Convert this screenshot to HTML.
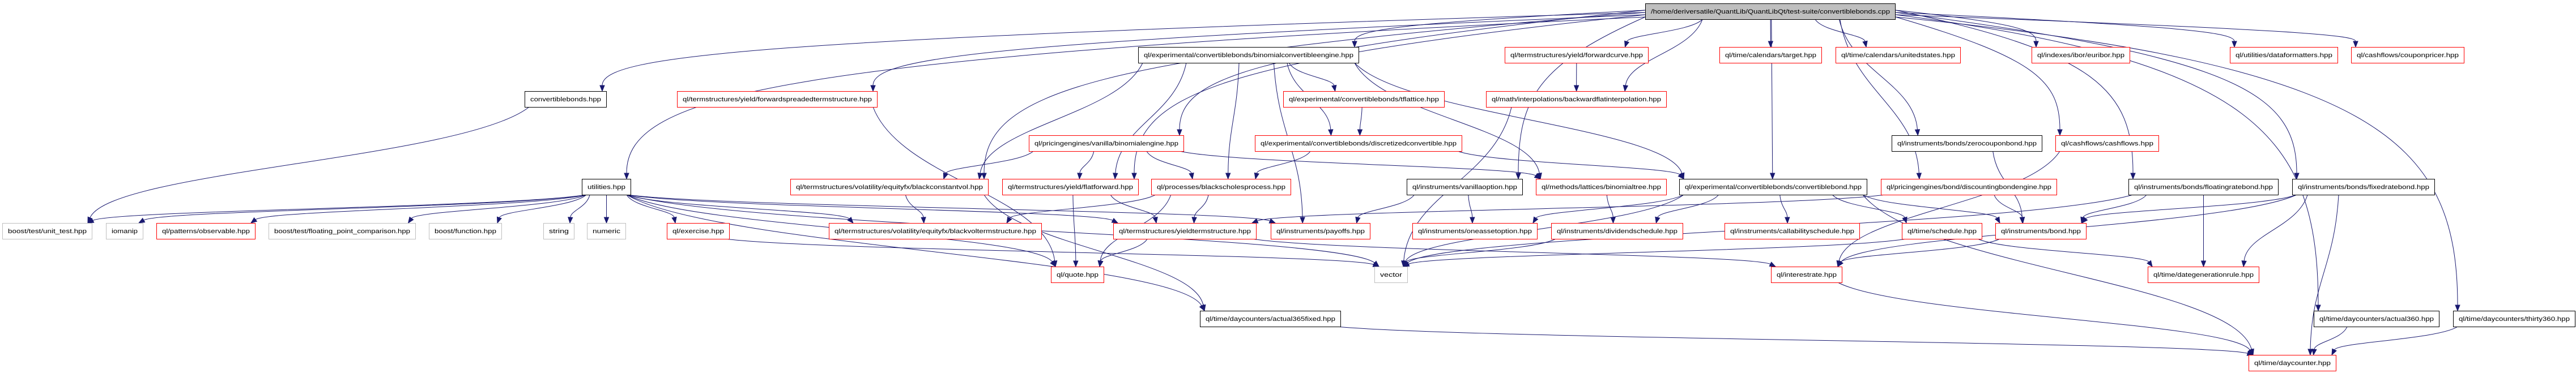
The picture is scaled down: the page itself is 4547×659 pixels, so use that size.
<!DOCTYPE html>
<html><head><meta charset="utf-8">
<style>
html,body{margin:0;padding:0;background:#fff;}
svg{display:block;}
text{font-family:"Liberation Sans",Arial,sans-serif;font-size:11px;fill:#000;}
</style></head>
<body>
<svg id="g" width="4547" height="659" viewBox="0 0 4547 659" xmlns="http://www.w3.org/2000/svg">
<g id="edges" fill="none" stroke="#191970" stroke-width="1"></g>
<g id="arrows" fill="#191970" stroke="#191970"></g>
<g id="nodes"></g>
</svg>
<script>
var R=[0,6,83,161,239,316,394,471,549,627];
var N={
A:[2904,3346,1,'/home/deriversatile/QuantLib/QuantLibQt/test-suite/convertiblebonds.cpp','t'],
bce:[2009,2399,2,'ql/experimental/convertiblebonds/binomialconvertibleengine.hpp','b'],
fc:[2656,2910,2,'ql/termstructures/yield/forwardcurve.hpp','r'],
tgt:[3035,3216,2,'ql/time/calendars/target.hpp','r'],
us:[3240,3461,2,'ql/time/calendars/unitedstates.hpp','r'],
eur:[3586,3760,2,'ql/indexes/ibor/euribor.hpp','r'],
df:[3936,4127,2,'ql/utilities/dataformatters.hpp','r'],
cp:[4150,4350,2,'ql/cashflows/couponpricer.hpp','r'],
cbh:[926,1071,3,'convertiblebonds.hpp','b'],
fst:[1195,1549,3,'ql/termstructures/yield/forwardspreadedtermstructure.hpp','r'],
tfl:[2265,2550,3,'ql/experimental/convertiblebonds/tflattice.hpp','r'],
bfi:[2623,2942,3,'ql/math/interpolations/backwardflatinterpolation.hpp','r'],
be:[1816,2090,4,'ql/pricingengines/vanilla/binomialengine.hpp','r'],
dc:[2215,2581,4,'ql/experimental/convertiblebonds/discretizedconvertible.hpp','r'],
zcb:[3339,3605,4,'ql/instruments/bonds/zerocouponbond.hpp','b'],
cf:[3628,3811,4,'ql/cashflows/cashflows.hpp','r'],
ut:[1027,1114,5,'utilities.hpp','b'],
bcv:[1395,1745,5,'ql/termstructures/volatility/equityfx/blackconstantvol.hpp','r'],
ff:[1769,2010,5,'ql/termstructures/yield/flatforward.hpp','r'],
bsp:[2032,2279,5,'ql/processes/blackscholesprocess.hpp','r'],
vo:[2483,2688,5,'ql/instruments/vanillaoption.hpp','b'],
bt:[2711,2942,5,'ql/methods/lattices/binomialtree.hpp','r'],
cb:[2964,3296,5,'ql/experimental/convertiblebonds/convertiblebond.hpp','b'],
dbe:[3320,3631,5,'ql/pricingengines/bond/discountingbondengine.hpp','r'],
frb:[3757,4022,5,'ql/instruments/bonds/floatingratebond.hpp','b'],
fxb:[4046,4298,5,'ql/instruments/bonds/fixedratebond.hpp','b'],
unt:[4,163,6,'boost/test/unit_test.hpp','g'],
iom:[187,253,6,'iomanip','g'],
obs:[276,451,6,'ql/patterns/observable.hpp','r'],
fpc:[474,734,6,'boost/test/floating_point_comparison.hpp','g'],
fun:[757,886,6,'boost/function.hpp','g'],
str:[959,1014,6,'string','g'],
num:[1036,1105,6,'numeric','g'],
ex:[1177,1288,6,'ql/exercise.hpp','r'],
bvt:[1463,1839,6,'ql/termstructures/volatility/equityfx/blackvoltermstructure.hpp','r'],
yts:[1965,2218,6,'ql/termstructures/yieldtermstructure.hpp','r'],
pay:[2243,2419,6,'ql/instruments/payoffs.hpp','r'],
oao:[2493,2714,6,'ql/instruments/oneassetoption.hpp','r'],
ds:[2738,2971,6,'ql/instruments/dividendschedule.hpp','r'],
cs:[3044,3283,6,'ql/instruments/callabilityschedule.hpp','r'],
sch:[3357,3499,6,'ql/time/schedule.hpp','r'],
bond:[3522,3683,6,'ql/instruments/bond.hpp','r'],
q:[1855,1949,7,'ql/quote.hpp','r'],
vec:[2426,2485,7,'vector','g'],
ir:[3126,3252,7,'ql/interestrate.hpp','r'],
dgr:[3791,3988,7,'ql/time/dategenerationrule.hpp','r'],
a365:[2118,2367,8,'ql/time/daycounters/actual365fixed.hpp','b'],
a360:[4084,4306,8,'ql/time/daycounters/actual360.hpp','b'],
t360:[4330,4546,8,'ql/time/daycounters/thirty360.hpp','b'],
dcn:[3969,4124,9,'ql/time/daycounter.hpp','r']
};
var E=[
['A','bce'],['A','fc'],['A','tgt'],['A','us'],['A','eur'],['A','df'],['A','cp'],['A','cbh'],['A','fst'],['A','ut'],['A','bfi'],['A','be'],['A','zcb'],['A','cf'],['A','cb'],['A','dbe'],['A','frb'],['A','fxb'],['A','a360'],['A','t360'],['A','bcv'],['A','ff'],['A','vo'],
['cbh','unt'],
['ut','unt'],['ut','iom'],['ut','obs'],['ut','fpc'],['ut','fun'],['ut','str'],['ut','num'],['ut','ex'],['ut','bvt'],['ut','yts'],['ut','pay'],['ut','q'],['ut','vec'],['ut','a365'],
['fst','q'],
['bce','bcv'],['bce','ff'],['bce','bsp'],['bce','tfl'],['bce','dc'],['bce','cb'],['bce','bt'],['bce','pay'],
['be','bcv'],['be','ff'],['be','bsp'],['be','bt'],
['bcv','bvt'],['bcv','a365'],
['ff','q'],['ff','yts'],
['bsp','bvt'],['bsp','yts'],['bsp','q'],
['yts','q'],['yts','ir'],
['tfl','dc'],['dc','cb'],['dc','bsp'],
['fc','bfi'],['bfi','vec'],
['vo','pay'],['vo','oao'],['bt','ds'],
['cb','oao'],['cb','ds'],['cb','cs'],['cb','sch'],['cb','bond'],['cb','vec'],['cb','dcn'],
['dbe','bond'],['dbe','yts'],['zcb','bond'],['cf','ir'],
['frb','bond'],['frb','dgr'],['frb','vec'],
['fxb','bond'],['fxb','dgr'],['fxb','dcn'],['fxb','ir'],
['sch','dgr'],['sch','vec'],['bond','ir'],['ex','vec'],['ds','vec'],
['ir','dcn'],['a365','dcn'],['a360','dcn'],['t360','dcn']
];
var NS='http://www.w3.org/2000/svg';
function el(n,a,p){var e=document.createElementNS(NS,n);for(var k in a)e.setAttribute(k,a[k]);p.appendChild(e);return e;}
var ge=document.getElementById('edges'),ga=document.getElementById('arrows'),gn=document.getElementById('nodes');
function cl(v,a,b){return Math.max(a,Math.min(b,v));}
var li=0,ri=0;
E.forEach(function(e){
 var s=N[e[0]],t=N[e[1]];
 var sc=(s[0]+s[1])/2,tc=(t[0]+t[1])/2;
 var tx=cl(tc+(sc-tc)*0.25,t[0]+8,t[1]-8);
 var ty=R[t[2]];
 var sx,sy,c1x,c1y,c2x,c2y;
 if(e[0]=='A' && (tx<s[0]-150 || tx>s[1]+150)){
   var left=tx<s[0];
   sx=left?s[0]:s[1];
   sy=left?(18+(li++%4)*4):(18+(ri++%4)*4);
   var hy=sy+Math.min(60,(ty-sy)*0.3)+ (left?li:ri)*3;
   c1x=tx+(sx-tx)*0.15; c1y=hy;
   c2x=tx; c2y=hy+ (ty-hy)*0.3;
 } else {
   sx=cl(sc+(tc-sc)*0.35,s[0]+8,s[1]-8);
   sy=R[s[2]]+28;
   var dy=ty-sy;
   c1x=sx+(tx-sx)*0.15;c1y=sy+dy*0.45;c2x=tx-(tx-sx)*0.05;c2y=ty-dy*0.45;
 }
 var dx=tx-c2x,ddy=ty-c2y,L=Math.sqrt(dx*dx+ddy*ddy)||1;dx/=L;ddy/=L;
 var ex=tx-dx*10,ey=ty-ddy*10;
 el('path',{d:'M'+sx+','+sy+' C'+c1x+','+c1y+' '+c2x+','+c2y+' '+ex+','+ey},ge);
 var px=-ddy,py=dx;
 el('polygon',{points:tx+','+ty+' '+(ex+px*4)+','+(ey+py*4)+' '+(ex-px*4)+','+(ey-py*4)},ga);
});
for(var k in N){var n=N[k];var y=R[n[2]],w=n[1]-n[0];
 var col=n[4]=='r'?'#ff0000':(n[4]=='g'?'#bfbfbf':'#000000');
 el('rect',{x:n[0]+0.5,y:y+0.5,width:w-1,height:28,fill:n[4]=='t'?'#bfbfbf':'#ffffff',stroke:n[4]=='t'?'#000':col,'stroke-width':1},gn);
 var t=el('text',{x:n[0]+w/2,y:y+18,'text-anchor':'middle',textLength:Math.max(10,w-20),lengthAdjust:'spacingAndGlyphs'},gn);
 t.textContent=n[3];
}
</script>
</body></html>
